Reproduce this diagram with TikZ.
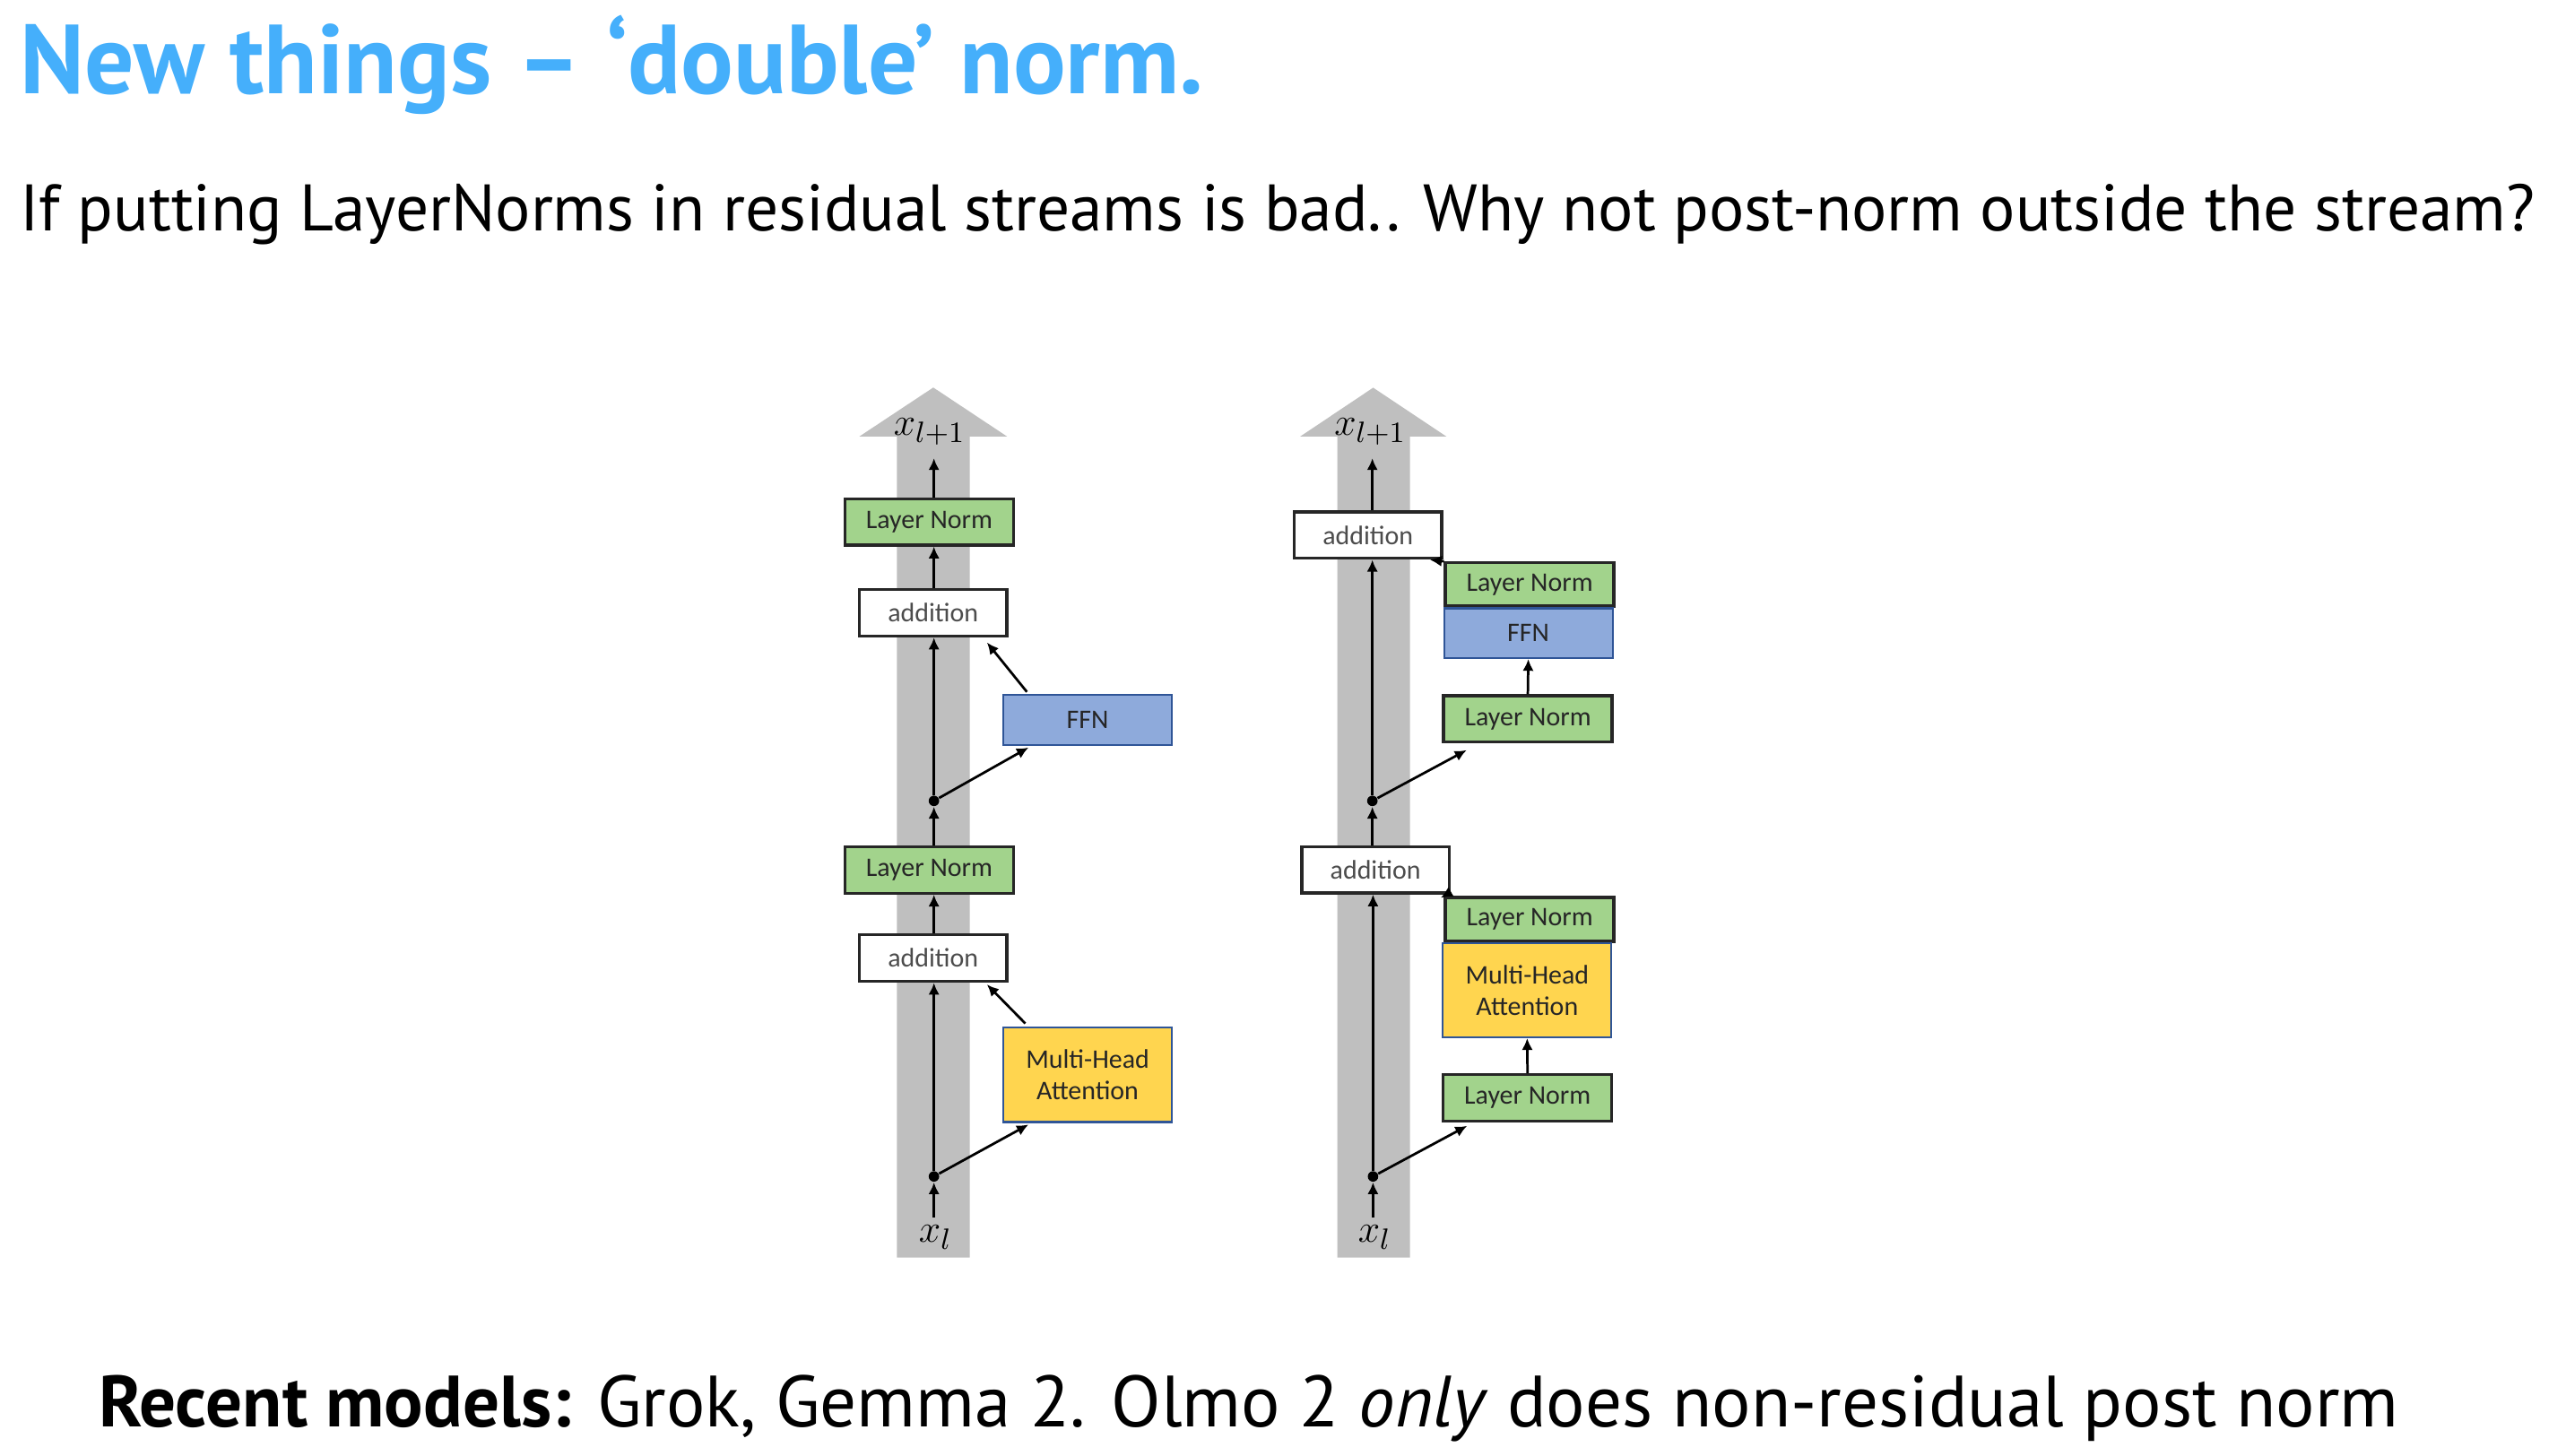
\documentclass[tikz,border=0pt]{standalone}
\usepackage{fontspec}
\setmainfont{PT Sans}
\newfontfamily\boxfont{Carlito}
\usetikzlibrary{calc,arrows.meta}

\definecolor{titleblue}{HTML}{45AFFB}
\definecolor{lngreen}{HTML}{A2D38C}
\definecolor{ffnblue}{HTML}{8EAADB}
\definecolor{mhayellow}{HTML}{FFD54F}
\definecolor{edgeblue}{HTML}{2F5597}
\definecolor{streamgray}{HTML}{BFBFBF}

\tikzset{
  blk/.style={draw=black!85, line width=0.9pt, inner sep=0pt, text=black!85,
    font=\boxfont\fontsize{8.2}{9.6}\selectfont},
  lnbox/.style={blk, fill=lngreen, minimum width=51.5pt, minimum height=14.2pt},
  addbox/.style={blk, fill=white, minimum width=45pt, minimum height=14.2pt, text=black!70},
  ffnbox/.style={blk, draw=edgeblue, line width=0.6pt, fill=ffnblue, minimum width=51.5pt, minimum height=15.4pt},
  mhabox/.style={blk, draw=edgeblue, line width=0.6pt, fill=mhayellow, minimum width=51.5pt, minimum height=28.8pt, align=center},
  sumdot/.style={shape=circle, fill=black, inner sep=0pt, minimum size=3.2pt},
  xlabel/.style={inner sep=0pt, font=\fontsize{12.5}{14}\selectfont},
  flow/.style={-{Latex[length=3.6pt,width=3.4pt]}, line width=0.75pt},
}

\begin{document}
\begin{tikzpicture}[x=0.5pt, y=-0.5pt]
    \useasboundingbox (0,0) rectangle (1568,889.7);

    % slide text
    \node[anchor=base west, inner sep=0pt, text=titleblue, font=\bfseries\fontsize{30}{35}\selectfont] (title) at (12,57) {New things – ‘double’ norm.};
    \node[anchor=base west, inner sep=0pt, font=\fontsize{20.1}{24}\selectfont] (sub) at (12,141) {If putting LayerNorms in residual streams is bad.. Why not post-norm outside the stream?};
    \node[anchor=base west, inner sep=0pt, font=\fontsize{22.2}{26}\selectfont] (recent) at (60,872) {\textbf{Recent models:} Grok, Gemma 2. Olmo 2 \textit{only} does non-residual post norm};

    % residual streams
    \fill[streamgray] (548,768.5) -- (548,266.8) -- (525,266.8) -- (570.3,236.8) -- (615.5,266.8) -- (592.6,266.8) -- (592.6,768.5) -- cycle;
    \fill[streamgray] (817.2,768.5) -- (817.2,266.8) -- (794.4,266.8) -- (839.1,236.9) -- (883.9,266.8) -- (861.6,266.8) -- (861.6,768.5) -- cycle;

    % left: post-norm
    \node[lnbox] (LNa) at (567.8,318.9) {Layer Norm};
    \node[addbox] (ADDa) at (570.2,374.5) {addition};
    \node[ffnbox] (FFNa) at (664.6,439.8) {FFN};
    \node[sumdot] (Da) at (570.7,489.4) {};
    \node[lnbox] (LNb) at (567.8,531.6) {Layer Norm};
    \node[addbox] (ADDb) at (570.2,585.5) {addition};
    \node[mhabox] (MHAa) at (664.6,656.8) {Multi-Head\\Attention};
    \node[sumdot] (Db) at (570.7,718.9) {};
    \node[xlabel] (outa) at (568,264) {$x_{l+1}$};
    \node[xlabel] (ina) at (571.6,756) {$x_l$};
    \coordinate (topa) at (570.7,280);
    \coordinate (bota) at (570.7,744);

    \draw[flow] (bota) -- (Db);
    \draw[flow] (Db) -- (Db |- ADDb.south);
    \draw[flow] (Db) -- ($(MHAa.south west)+(16,1)$);
    \draw[flow] ($(MHAa.north west)+(14,-2)$) -- ($(ADDb.south east)+(-13,1)$);
    \draw[flow] (ADDb.north -| Db) -- (LNb.south -| Db);
    \draw[flow] (LNb.north -| Da) -- (Da);
    \draw[flow] (Da) -- (Da |- ADDa.south);
    \draw[flow] (Da) -- ($(FFNa.south west)+(16,1)$);
    \draw[flow] ($(FFNa.north west)+(15,-1)$) -- ($(ADDa.south east)+(-13,3)$);
    \draw[flow] (ADDa.north -| Da) -- (LNa.south -| Da);
    \draw[flow] (LNa.north -| Da) -- (topa);

    % right: double norm
    \node[addbox] (ADDc) at (835.9,327) {addition};
    \node[lnbox, minimum height=13.2pt] (LNc) at (934.7,357.1) {Layer Norm};
    \node[ffnbox, minimum height=15.2pt] (FFNb) at (933.9,386.9) {FFN};
    \node[lnbox] (LNd) at (933.6,439.3) {Layer Norm};
    \node[sumdot] (Dc) at (838.6,489.4) {};
    \node[addbox] (ADDd) at (840.5,531.5) {addition};
    \node[lnbox, minimum height=13.4pt] (LNe) at (934.7,561.8) {Layer Norm};
    \node[mhabox] (MHAb) at (933.2,605) {Multi-Head\\Attention};
    \node[lnbox] (LNf) at (933.4,670.9) {Layer Norm};
    \node[sumdot] (Dd) at (839,718.9) {};
    \node[xlabel] (outb) at (837.3,264) {$x_{l+1}$};
    \node[xlabel] (inb) at (840,756) {$x_l$};
    \coordinate (topb) at (838.6,280);
    \coordinate (botb) at (839,744);

    \draw[flow] (botb) -- (Dd);
    \draw[flow] (Dd) -- (Dd |- ADDd.south);
    \draw[flow] (Dd) -- ($(LNf.south west)+(15.5,2)$);
    \draw[flow] (LNf.north) -- (MHAb.south);
    \draw[flow] (LNe.north west) -- ($(ADDd.south east)+(-6,2)$);
    \draw[flow] (ADDd.north -| Dc) -- (Dc);
    \draw[flow] (Dc) -- (Dc |- ADDc.south);
    \draw[flow] (Dc) -- ($(LNd.south west)+(15,4)$);
    \draw[flow] (LNd.north) -- (FFNb.south);
    \draw[flow] (LNc.north west) -- ($(ADDc.south east)+(-8,0)$);
    \draw[flow] (ADDc.north -| Dc) -- (topb);
\end{tikzpicture}
\end{document}
